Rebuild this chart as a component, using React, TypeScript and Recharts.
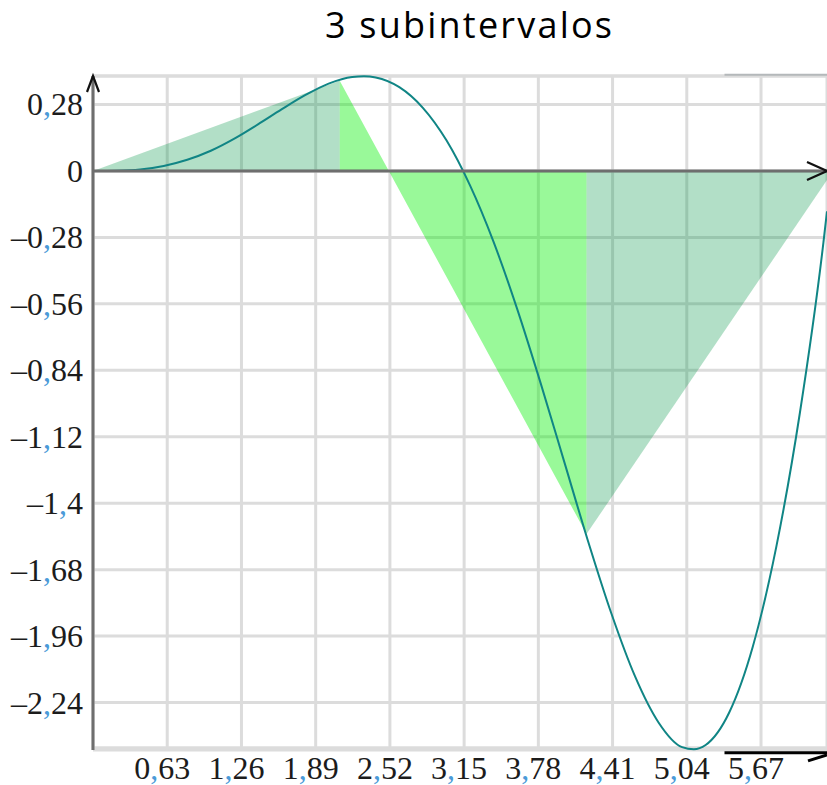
import React from 'react';
import {
  ComposedChart,
  Line,
  Area,
  XAxis,
  YAxis,
  CartesianGrid,
  ReferenceLine,
} from 'recharts';

// ---- data ----
const TITLE = '3 subintervalos';

// sampled curve f(x)
const CURVE_X = [
  0, 0.2, 0.4, 0.6, 0.8, 1.0, 1.2, 1.4, 1.6, 1.8, 2.0, 2.2, 2.3, 2.4, 2.6, 2.8,
  3.0, 3.2, 3.4, 3.6, 3.8, 4.0, 4.2, 4.4, 4.6, 4.8, 5.0, 5.1, 5.2, 5.4, 5.6,
  5.8, 6.0, 6.2, 6.23,
];
const CURVE_Y = [
  0, 0.001, 0.006, 0.021, 0.047, 0.085, 0.136, 0.196, 0.259, 0.319, 0.368,
  0.396, 0.399, 0.394, 0.353, 0.266, 0.129, -0.061, -0.299, -0.581, -0.895,
  -1.226, -1.557, -1.865, -2.129, -2.324, -2.428, -2.437, -2.419, -2.282,
  -2.005, -1.583, -1.019, -0.3, -0.17,
];

// trapezoid nodes (3 subintervals on [0, 2π])
const NODE_X = [0, 2.094, 4.189, 6.283];
const NODE_Y = [0, 0.38, -1.53, 0];

const X_TICKS = [0.63, 1.26, 1.89, 2.52, 3.15, 3.78, 4.41, 5.04, 5.67];
const Y_TICKS = [0.28, 0, -0.28, -0.56, -0.84, -1.12, -1.4, -1.68, -1.96, -2.24];
const Y_GRID_EDGES = [0.4, -2.43];

const X_DOMAIN: [number, number] = [0, 6.23];
const Y_DOMAIN: [number, number] = [-2.44, 0.4];

// ---- styles ----
const W = 827;
const H = 785;
const GRID = '#dcdcdc';
const AXIS = '#6e6e6e';
const CURVE = '#108585';
const TRAP_FILLS = ['#009646', '#00f000', '#009646'];
const TRAP_OPACITY = [0.3, 0.4, 0.3];
const LABEL_FONT = '"Liberation Serif", "DejaVu Serif", serif';
const COMMA_COLOR = '#4a9ad8';

const curveData = CURVE_X.map((x, i) => ({ x, y: CURVE_Y[i] }));
const trapezoids = [0, 1, 2].map((i) => [
  { x: NODE_X[i], y: NODE_Y[i] },
  { x: NODE_X[i + 1], y: NODE_Y[i + 1] },
]);

// decimal label with a coloured comma
const NumLabel = ({ x, y, value, anchor }: any) => {
  const s = String(value).replace('.', ',').replace('-', '\u2013');
  const [a, b] = s.split(',');
  return (
    <text
      x={x}
      y={y}
      textAnchor={anchor}
      fontFamily={LABEL_FONT}
      fontSize={32}
      fill="#1c1c1c"
    >
      <tspan>{a}</tspan>
      {b !== undefined && <tspan fill={COMMA_COLOR}>,</tspan>}
      {b !== undefined && <tspan>{b}</tspan>}
    </text>
  );
};

const XTick = (props: any) => {
  const { x, y, payload } = props;
  return <NumLabel x={x - 5} y={y + 29} value={payload.value} anchor="middle" />;
};

const YTick = (props: any) => {
  const { x, y, payload } = props;
  return <NumLabel x={x} y={y + 11} value={payload.value} anchor="end" />;
};

// axis line with an open chevron at its end point
const arrowShape =
  (len: number, half: number, lineColor: string, width: number) => (p: any) => {
    const { x1, y1, x2, y2 } = p;
    const dx = x2 - x1;
    const dy = y2 - y1;
    const d = Math.hypot(dx, dy) || 1;
    const ux = dx / d;
    const uy = dy / d;
    const bx = x2 - ux * len;
    const by = y2 - uy * len;
    const path = `M${bx - uy * half},${by + ux * half} L${x2},${y2} L${bx + uy * half},${by - ux * half}`;
    return (
      <g>
        <line x1={x1} y1={y1} x2={x2} y2={y2} stroke={lineColor} strokeWidth={width} />
        <path d={path} fill="none" stroke="#111" strokeWidth={2.2} />
      </g>
    );
  };

// short black rule with a lower hook at its right end
const hookShape = (p: any) => {
  const { x1, y1, x2, y2 } = p;
  return (
    <g>
      <line x1={x1} y1={y1} x2={x2} y2={y2} stroke="#000" strokeWidth={3} />
      <path d={`M${x2},${y2 + 2} L${x2 - 19},${y2 + 8}`} stroke="#000" strokeWidth={3} fill="none" />
    </g>
  );
};

export default function App() {
  return (
    <div style={{ position: 'absolute', left: 0, top: 0, width: W, height: H, background: '#fff' }}>
      <svg
        width={W}
        height={60}
        style={{ position: 'absolute', left: 0, top: 0, pointerEvents: 'none' }}
      >
        <text
          x={468.5}
          y={38}
          textAnchor="middle"
          fontFamily="'Open Sans', Lato, sans-serif"
          fontSize={36}
          textLength={287}
          lengthAdjust="spacing"
          fill="#000"
        >
          {TITLE}
        </text>
      </svg>
      <ComposedChart
        width={W}
        height={H}
        margin={{ top: 76, right: 0, bottom: 0, left: 0 }}
        style={{ position: 'absolute', left: 0, top: 0 }}
      >
        <CartesianGrid stroke={GRID} strokeWidth={3} />
        <XAxis
          type="number"
          dataKey="x"
          domain={X_DOMAIN}
          allowDataOverflow
          ticks={X_TICKS}
          interval={0}
          height={35}
          axisLine={false}
          tickLine={false}
          tickSize={0}
          tickMargin={0}
          tick={<XTick />}
        />
        <XAxis xAxisId="c" type="number" dataKey="x" domain={X_DOMAIN} hide />
        <YAxis
          type="number"
          domain={Y_DOMAIN}
          ticks={Y_TICKS}
          interval={0}
          width={93}
          axisLine={false}
          tickLine={false}
          tickSize={0}
          tickMargin={10}
          tick={<YTick />}
        />
        {Y_GRID_EDGES.map((v) => (
          <ReferenceLine key={v} y={v} stroke={GRID} strokeWidth={3} ifOverflow="visible" />
        ))}
        <Line
          xAxisId="c"
          data={curveData}
          dataKey="y"
          type="monotone"
          stroke={CURVE}
          strokeWidth={2}
          dot={false}
          isAnimationActive={false}
        />
        {trapezoids.map((d, i) => (
          <Area
            key={i}
            data={d}
            dataKey="y"
            type="linear"
            baseValue={0}
            stroke="none"
            fill={TRAP_FILLS[i]}
            fillOpacity={TRAP_OPACITY[i]}
            isAnimationActive={false}
          />
        ))}
        <ReferenceLine
          segment={[{ x: 0, y: 0 }, { x: X_DOMAIN[1], y: 0 }]}
          ifOverflow="visible"
          shape={arrowShape(20, 9, AXIS, 3)}
        />
        <ReferenceLine
          segment={[{ x: 0, y: Y_DOMAIN[0] }, { x: 0, y: Y_DOMAIN[1] }]}
          ifOverflow="visible"
          shape={arrowShape(16, 6, AXIS, 3)}
        />
        <ReferenceLine
          segment={[{ x: 5.36, y: 0.405 }, { x: X_DOMAIN[1], y: 0.405 }]}
          ifOverflow="visible"
          stroke="#b4b8ba"
          strokeWidth={2}
        />
        <ReferenceLine
          segment={[{ x: 5.36, y: -2.452 }, { x: X_DOMAIN[1], y: -2.452 }]}
          ifOverflow="visible"
          shape={hookShape}
        />
      </ComposedChart>
    </div>
  );
}
